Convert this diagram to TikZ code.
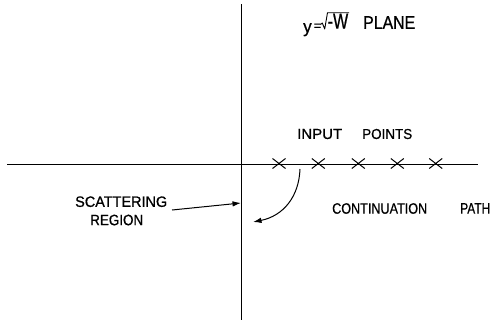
\documentclass[tikz,border=0pt]{standalone}
\usepackage{fontspec}
\setmainfont[FakeBold=0.8]{Liberation Sans}
\usepackage{graphicx}
\usetikzlibrary{arrows.meta,shapes.misc}
\begin{document}
\begin{tikzpicture}[x=1pt,y=-1pt,
  axis/.style={line width=1.2pt},
  lbl/.style={inner sep=0pt, anchor=west},
  xmark/.style={cross out, draw, line width=1pt, minimum width=12pt, minimum height=9pt, inner sep=0pt},
  arr/.style={line width=1pt, -{Latex[length=8.5pt,width=5.5pt]}},
  radical/.style={line width=0.9pt, line join=round}]
\useasboundingbox (0,0) rectangle (492,322);
% axes
\coordinate (vtop) at (241.7,4);
\coordinate (vbot) at (241.7,320);
\coordinate (hl) at (7,164.5);
\coordinate (hr) at (478,164.5);
\draw[axis] (vtop) -- (vbot);
\draw[axis] (hl) -- (hr);
% input points
\foreach \i/\x in {1/279,2/318.3,3/358.3,4/397.3,5/435.7}
  \node[xmark] (p\i) at (\x,163.5) {};
% title
\node[anchor=north west, inner sep=0pt] (ty) at (303,23) {\resizebox*{8.5pt}{13pt}{y}};
\node[anchor=base, inner sep=0pt] (teq) at (317.5,30) {\fontsize{13}{13}\selectfont =};
\draw[radical] (320.5,24.5) -- (322.3,23) -- (324.7,29) -- (327.5,12.7) -- (349,12.7);
\node[anchor=south west, inner sep=0pt] (tw) at (327.5,28.8) {\resizebox{20.5pt}{15pt}{-W}};
\node[lbl] (plane) at (363,22.5) {\resizebox{52pt}{12.5pt}{PLANE}};
% labels
\node[lbl] (inp) at (297,134) {\resizebox{45pt}{10pt}{INPUT}\hspace{20pt}\resizebox{50pt}{10pt}{POINTS}};
\node[lbl] (cont) at (332,208.5) {\resizebox{95pt}{10.5pt}{CONTINUATION}\hspace{33pt}\resizebox{30pt}{10.5pt}{PATH}};
\node[lbl] (scat) at (75,201.7) {\resizebox{92pt}{10.5pt}{SCATTERING}};
\node[lbl] (reg) at (90,220) {\resizebox{53pt}{10.5pt}{REGION}};
% arrows
\coordinate (ss) at (172,210);
\coordinate (se) at (241,203);
\draw[arr] (ss) -- (se);
\coordinate (cs) at (300,169);
\coordinate (ce) at (253,222);
\draw[arr] (cs) .. controls (299,197) and (283,216) .. (ce);
\end{tikzpicture}
\end{document}
